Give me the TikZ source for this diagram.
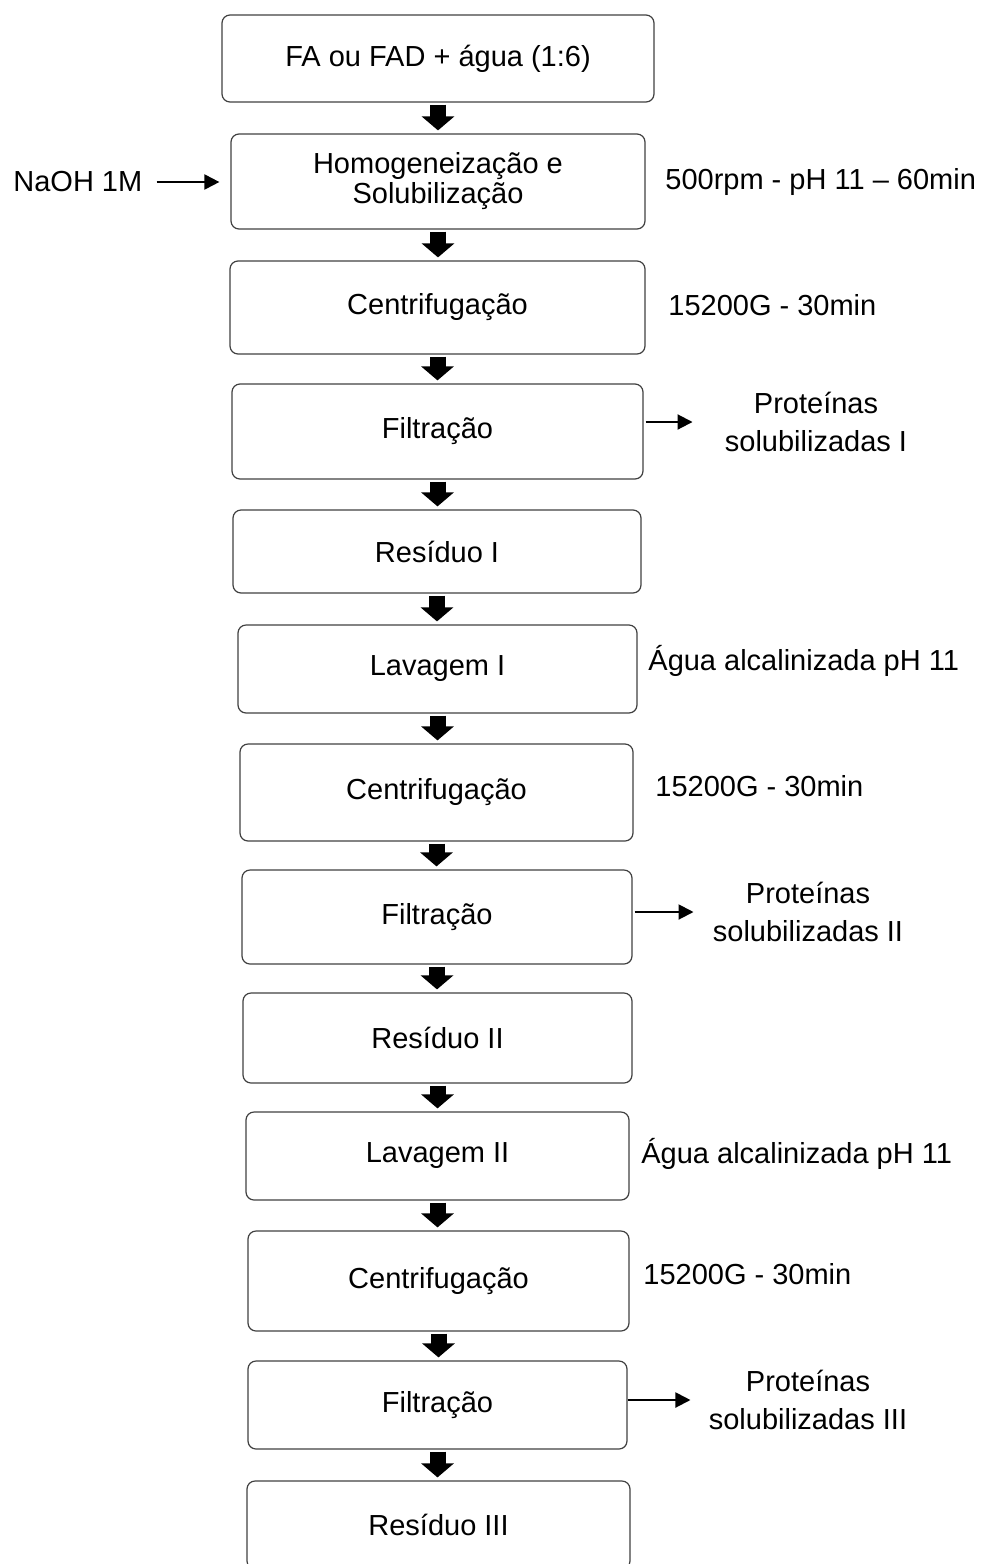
\documentclass[tikz,border=0pt]{standalone}
\usepackage{fontspec}
\setmainfont{Liberation Sans}
\usetikzlibrary{arrows.meta}

\begin{document}
\begin{tikzpicture}[x=0.5pt, y=-0.5pt,
  every node/.style={font=\fontsize{14.5}{15}\selectfont},
  box/.style={draw=black!75, line width=0.6pt, rounded corners=4pt, align=center, inner sep=0pt},
  side/.style={inner sep=0pt, anchor=west},
  prot/.style={inner sep=0pt, align=center, font=\fontsize{14.5}{19}\selectfont},
  bigarrow/.style={-{Triangle[width=16pt,length=7pt]}, line width=8pt, shorten <=1pt, shorten >=1.5pt},
  thinarrow/.style={-{Triangle[width=7.5pt,length=7.5pt]}, line width=1pt}]
\useasboundingbox (0,0) rectangle (986,1564);
\clip (0,0) rectangle (986,1564);

\node [box, minimum width=216pt, minimum height=43.5pt] (mix) at (438,58.5) {FA ou FAD + água (1:6)};
\node [box, minimum width=207pt, minimum height=47.5pt] (homog) at (438,181.5) {Homogeneização e\\Solubilização};
\node [box, minimum width=207.5pt, minimum height=46.5pt] (cent1) at (437.5,307.5) {Centrifugação};
\node [box, minimum width=205.5pt, minimum height=47.5pt] (filt1) at (437.5,431.5) {Filtração};
\node [box, minimum width=204pt, minimum height=41.5pt] (res1) at (437,551.5) {Resíduo I};
\node [box, minimum width=199.5pt, minimum height=44pt] (lav1) at (437.5,669) {Lavagem I};
\node [box, minimum width=196.5pt, minimum height=48.5pt] (cent2) at (436.5,792.5) {Centrifugação};
\node [box, minimum width=195pt, minimum height=47pt] (filt2) at (437,917) {Filtração};
\node [box, minimum width=194.5pt, minimum height=45pt] (res2) at (437.5,1038) {Resíduo II};
\node [box, minimum width=191.5pt, minimum height=44pt] (lav2) at (437.5,1156) {Lavagem II};
\node [box, minimum width=190.5pt, minimum height=50pt] (cent3) at (438.5,1281) {Centrifugação};
\node [box, minimum width=189.5pt, minimum height=44pt] (filt3) at (437.5,1405) {Filtração};
\node [box, minimum width=191.5pt, minimum height=44pt] (res3) at (438.5,1525) {Resíduo III};

\foreach \a/\b in {mix/homog, homog/cent1, cent1/filt1, filt1/res1, res1/lav1, lav1/cent2,
  cent2/filt2, filt2/res2, res2/lav2, lav2/cent3, cent3/filt3, filt3/res3}
  \draw [bigarrow] (\a.south) -- (\a.south |- \b.north);

\node [side] (naoh) at (13,182) {NaOH 1M};
\draw [thinarrow, shorten <=7pt, shorten >=5.5pt] (naoh.east) -- (homog.west |- naoh.east);

\node [side] (rpm) at (665,182) {500rpm - pH 11 – 60min};
\node [side] (g1) at (668,305) {15200G - 30min};
\node [side] (agua1) at (648,661) {Água alcalinizada pH 11};
\node [side] (g2) at (655,786) {15200G - 30min};
\node [side] (agua2) at (641,1154) {Água alcalinizada pH 11};
\node [side] (g3) at (643,1274) {15200G - 30min};

\node [prot] (prot1) at (816,422) {Proteínas\\solubilizadas I};
\node [prot] (prot2) at (808,912) {Proteínas\\solubilizadas II};
\node [prot] (prot3) at (808,1400) {Proteínas\\solubilizadas III};
\draw [thinarrow, shorten <=1pt, shorten >=16pt] (filt1.east |- prot1.west) -- (prot1.west);
\draw [thinarrow, shorten <=1pt, shorten >=9.5pt] (filt2.east |- prot2.west) -- (prot2.west);
\draw [thinarrow, shorten >=9pt] (filt3.east |- prot3.west) -- (prot3.west);
\end{tikzpicture}
\end{document}
